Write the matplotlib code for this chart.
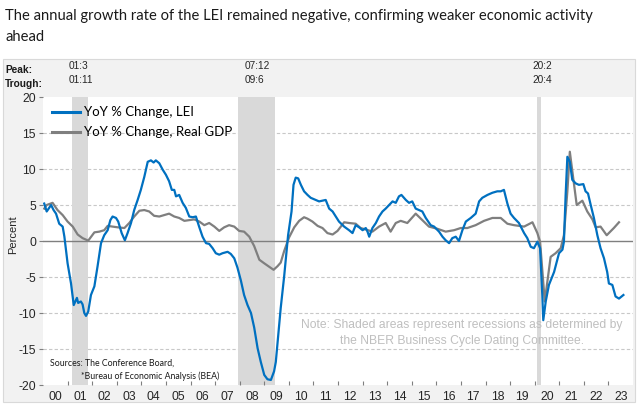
import matplotlib
matplotlib.use("Agg")
import matplotlib.pyplot as plt
import matplotlib.transforms as mtransforms
from matplotlib.patches import Rectangle

# ---------------- data ----------------
lei_t = [2000.05, 2000.15, 2000.33, 2000.43, 2000.53, 2000.66, 2000.80, 2000.87, 2001.00, 2001.14,
         2001.25, 2001.38, 2001.43, 2001.54, 2001.61, 2001.68, 2001.75, 2001.84, 2001.95, 2002.09,
         2002.22, 2002.36, 2002.49, 2002.63, 2002.74, 2002.83, 2002.97, 2003.06, 2003.20, 2003.33,
         2003.44, 2003.58, 2003.71, 2003.85, 2003.98, 2004.12, 2004.26, 2004.39, 2004.50, 2004.59,
         2004.73, 2004.87, 2005.00, 2005.13, 2005.24, 2005.34, 2005.41, 2005.54, 2005.68, 2005.81,
         2005.95, 2006.09, 2006.22, 2006.35, 2006.49, 2006.63, 2006.76, 2006.90, 2007.03, 2007.17,
         2007.30, 2007.51, 2007.64, 2007.78, 2007.91, 2008.05, 2008.18, 2008.32, 2008.46, 2008.59,
         2008.73, 2008.86, 2009.00, 2009.13, 2009.27, 2009.40, 2009.47, 2009.67, 2009.81, 2009.97,
         2010.11, 2010.19, 2010.28, 2010.38, 2010.49, 2010.62, 2010.76, 2010.89, 2011.10, 2011.23,
         2011.37, 2011.50, 2011.64, 2011.78, 2011.91, 2012.04, 2012.25, 2012.45, 2012.59, 2012.72,
         2012.86, 2013.00, 2013.13, 2013.20, 2013.27, 2013.40, 2013.54, 2013.67, 2013.81, 2013.94,
         2014.08, 2014.22, 2014.35, 2014.48, 2014.58, 2014.76, 2014.89, 2015.02, 2015.16, 2015.30,
         2015.43, 2015.57, 2015.77, 2015.91, 2016.11, 2016.25, 2016.38, 2016.52, 2016.65, 2016.79,
         2016.92, 2017.06, 2017.20, 2017.40, 2017.60, 2017.74, 2017.87, 2018.08, 2018.28, 2018.48,
         2018.62, 2018.75, 2018.89, 2019.02, 2019.16, 2019.36, 2019.57, 2019.70, 2019.84, 2019.97,
         2020.11, 2020.22, 2020.31, 2020.35, 2020.45, 2020.58, 2020.79, 2020.99, 2021.13, 2021.19,
         2021.26, 2021.33, 2021.43, 2021.53, 2021.67, 2021.80, 2021.98, 2022.07, 2022.17, 2022.28,
         2022.41, 2022.55, 2022.68, 2022.82, 2022.95, 2023.02, 2023.16, 2023.29, 2023.43, 2023.61]
lei_v = [5.2, 4.1, 5.0, 4.3, 3.8, 2.4, 2.0, 0.6, -3.1, -5.9,
         -8.9, -7.9, -8.6, -8.4, -8.8, -10.0, -10.4, -9.8, -7.5, -6.3,
         -3.5, -0.3, 0.8, 1.5, 2.9, 3.4, 3.2, 2.7, 1.1, 0.1,
         1.1, 2.5, 4.3, 5.7, 7.1, 8.9, 11.0, 11.2, 10.9, 11.2,
         10.8, 9.9, 9.2, 8.3, 7.1, 7.1, 6.2, 6.4, 5.3, 4.6,
         3.4, 3.3, 3.4, 2.0, 0.6, -0.3, -0.4, -1.0, -1.7, -1.9,
         -1.7, -1.5, -1.8, -2.4, -3.7, -5.5, -7.5, -8.9, -10.0, -12.0,
         -14.9, -16.8, -18.6, -19.2, -19.3, -18.1, -16.8, -9.3, -4.9, 0.8,
         4.1, 7.8, 8.8, 8.7, 7.8, 6.9, 6.4, 6.0, 5.7, 5.5,
         5.6, 5.7, 4.5, 4.1, 3.4, 2.7, 2.0, 1.5, 1.1, 2.2,
         1.9, 1.5, 1.8, 1.3, 0.6, 1.8, 2.5, 3.4, 4.1, 4.5,
         5.0, 5.5, 5.3, 6.2, 6.4, 5.7, 5.3, 5.5, 4.5, 4.3,
         4.1, 3.2, 2.2, 2.0, 1.3, 0.6, 0.1, -0.3, 0.4, 0.6,
         0.0, 1.5, 2.7, 3.2, 3.8, 5.5, 6.0, 6.4, 6.7, 6.9,
         6.9, 7.1, 5.2, 3.8, 3.2, 2.5, 1.1, 0.4, -0.8, -1.0,
         -0.1, -1.0, -7.5, -11.0, -8.4, -6.1, -4.3, -1.7, -1.2, -0.1,
         6.4, 11.7, 11.0, 8.5, 8.0, 7.8, 7.9, 6.9, 6.6, 5.0,
         3.2, 0.8, -1.0, -2.4, -4.3, -5.9, -6.1, -7.7, -8.0, -7.5]

gdp_t = [2000.05, 2000.15, 2000.39, 2000.59, 2000.80, 2001.00, 2001.21, 2001.41, 2001.61, 2001.84,
         2002.09, 2002.29, 2002.49, 2002.63, 2002.83, 2003.04, 2003.31, 2003.51, 2003.71, 2003.92,
         2004.12, 2004.32, 2004.52, 2004.73, 2004.93, 2005.13, 2005.34, 2005.54, 2005.75, 2005.95,
         2006.15, 2006.36, 2006.56, 2006.76, 2006.97, 2007.17, 2007.37, 2007.57, 2007.78, 2007.98,
         2008.18, 2008.39, 2008.59, 2008.80, 2009.00, 2009.21, 2009.38, 2009.54, 2009.67, 2009.81,
         2010.01, 2010.22, 2010.42, 2010.62, 2010.76, 2010.96, 2011.17, 2011.37, 2011.57, 2011.78,
         2011.98, 2012.25, 2012.45, 2012.72, 2012.92, 2013.13, 2013.40, 2013.67, 2013.94, 2014.14,
         2014.35, 2014.55, 2014.82, 2015.16, 2015.43, 2015.70, 2016.04, 2016.38, 2016.72, 2016.99,
         2017.26, 2017.60, 2017.94, 2018.28, 2018.62, 2018.89, 2019.16, 2019.57, 2019.91, 2020.11,
         2020.22, 2020.41, 2020.65, 2020.85, 2021.06, 2021.19, 2021.33, 2021.43, 2021.57, 2021.71,
         2021.94, 2022.14, 2022.35, 2022.48, 2022.68, 2022.93, 2023.22, 2023.43]
gdp_v = [4.5, 5.0, 5.3, 4.3, 3.6, 2.7, 2.0, 0.9, 0.4, 0.05,
         1.2, 1.3, 1.5, 2.1, 2.0, 1.9, 1.8, 2.5, 3.4, 4.2,
         4.3, 4.1, 3.5, 3.4, 3.6, 3.8, 3.4, 3.2, 2.8, 2.9,
         3.0, 2.7, 2.2, 2.5, 2.0, 1.4, 1.9, 2.2, 2.0, 1.4,
         1.3, 0.6, -0.7, -2.6, -3.1, -3.6, -4.0, -3.5, -3.0, -1.4,
         0.5, 1.9, 2.8, 3.3, 3.1, 2.7, 2.1, 1.8, 1.1, 0.9,
         1.4, 2.6, 2.5, 2.4, 1.8, 1.6, 1.3, 2.0, 2.5, 1.3,
         2.5, 2.8, 2.5, 3.8, 2.9, 2.0, 1.7, 1.3, 1.5, 1.8,
         1.8, 2.2, 2.8, 3.2, 3.2, 2.4, 2.2, 2.0, 2.6, 1.1,
         -0.1, -8.4, -2.2, -1.7, -1.0, 0.8, 6.9, 12.4, 8.7, 5.0,
         5.6, 4.1, 3.0, 1.9, 2.0, 0.8, 1.8, 2.6]

recession_start = [2001.17, 2007.92, 2020.08]
recession_end = [2001.83, 2009.42, 2020.25]
peak_labels = ["01:3", "07:12", "20:2"]
trough_labels = ["01:11", "09:6", "20:4"]
label_pos = [2001.06, 2008.21, 2019.92]

years = list(range(2000, 2024))
year_labels = [f"{y % 100:02d}" for y in years]
yticks = [-20, -15, -10, -5, 0, 5, 10, 15, 20]

# ---------------- figure ----------------
W, H = 640, 407
fig = plt.figure(figsize=(W / 100, H / 100), dpi=100)
fig.patch.set_facecolor("white")

def fx(px):
    return px / W

def fy(py):
    return 1 - py / H

# grey panel (behind everything)
panel = Rectangle((fx(3), fy(402)), fx(635) - fx(3), fy(59) - fy(402),
                  transform=fig.transFigure, facecolor="#F2F2F2",
                  edgecolor="#D9D9D9", linewidth=0.8, zorder=-10)
fig.patches.append(panel)

# title
fig.text(fx(5), fy(16), "The annual growth rate of the LEI remained negative, confirming weaker economic activity",
         fontsize=10.6, family="Lato", color="#1a1a1a", va="center", ha="left")
fig.text(fx(5), fy(37), "ahead",
         fontsize=10.6, family="Lato", color="#1a1a1a", va="center", ha="left")

ax_l, ax_r, ax_t, ax_b = 43, 633, 97, 385
ax = fig.add_axes([fx(ax_l), fy(ax_b), fx(ax_r) - fx(ax_l), fy(ax_t) - fy(ax_b)])
ax.set_zorder(1)
ax.set_facecolor("white")
ax.set_xlim(2000, 2024)
ax.set_ylim(-20, 20)

for s in ax.spines.values():
    s.set_visible(False)

# grid
for v in yticks:
    if v in (-20, 20):
        continue
    if v == 0:
        ax.axhline(v, color="#7F7F7F", lw=1.0, zorder=2)
    else:
        ax.axhline(v, color="#C8C8C8", lw=0.8, ls=(0, (3, 2)), zorder=1)

# recessions
for a, b in zip(recession_start, recession_end):
    ax.axvspan(a, b, color="#D9D9D9", lw=0, zorder=1.5)

ax.plot(gdp_t, gdp_v, color="#7F7F7F", lw=1.6, label="YoY % Change, Real GDP", zorder=3)
ax.plot(lei_t, lei_v, color="#0070C0", lw=1.6, label="YoY % Change, LEI", zorder=4)

# ticks
ax.set_yticks(yticks)
ax.set_yticklabels([str(v) for v in yticks], family="Liberation Sans", fontsize=8.7, color="#262626")
ax.tick_params(axis="y", direction="out", length=3, width=0.8, color="#7F7F7F", pad=2)
ax.set_xticks([y + 0.5 for y in years])
ax.set_xticklabels(year_labels, family="Liberation Sans", fontsize=8.7, color="#262626")
ax.tick_params(axis="x", which="major", length=0, pad=4)
ax.set_xticks(years[1:], minor=True)
ax.tick_params(axis="x", which="minor", direction="in", length=3, width=0.8, color="#7F7F7F")

fig.text(fx(13), fy(235), "Percent", family="Liberation Sans", fontsize=8, color="#262626",
         rotation=90, ha="center", va="center")

# legend
handles, labels = ax.get_legend_handles_labels()
leg = ax.legend(handles[::-1], labels[::-1], loc="upper left", bbox_to_anchor=(0.0, 1.0),
                frameon=False, prop={"family": "Lato", "size": 9.5},
                handlelength=2.1, handletextpad=0.3, labelspacing=0.6, borderaxespad=0.3)
for lh in leg.get_lines():
    lh.set_linewidth(2.2)

# peak / trough labels
fig.text(fx(5), fy(70), "Peak:", family="Liberation Sans", fontweight="bold", fontsize=7.3, color="#1a1a1a", va="center")
fig.text(fx(5), fy(84), "Trough:", family="Liberation Sans", fontweight="bold", fontsize=7.3, color="#1a1a1a", va="center")
blend = mtransforms.blended_transform_factory(ax.transData, fig.transFigure)
for xp, pk, tr in zip(label_pos, peak_labels, trough_labels):
    fig.text(xp, fy(66), pk, transform=blend, family="Liberation Sans", fontsize=7.3, color="#262626", va="center")
    fig.text(xp, fy(80), tr, transform=blend, family="Liberation Sans", fontsize=7.3, color="#262626", va="center")

# note
fig.text(fx(462), fy(325), "Note: Shaded areas represent recessions as determined by",
         family="Liberation Sans", fontsize=8.7, color="#BFBFBF", ha="center", va="center", zorder=5)
fig.text(fx(462), fy(341), "the NBER Business Cycle Dating Committee.",
         family="Liberation Sans", fontsize=8.7, color="#BFBFBF", ha="center", va="center", zorder=5)

# sources
fig.text(fx(50), fy(363), "Sources: The Conference Board,", family="Lato", fontsize=6.3, color="#1a1a1a", va="center", zorder=5)
fig.text(fx(81), fy(376), "*Bureau of Economic Analysis (BEA)", family="Lato", fontsize=6.3, color="#1a1a1a", va="center", zorder=5)

fig.savefig("out.png", dpi=100, facecolor="white")
